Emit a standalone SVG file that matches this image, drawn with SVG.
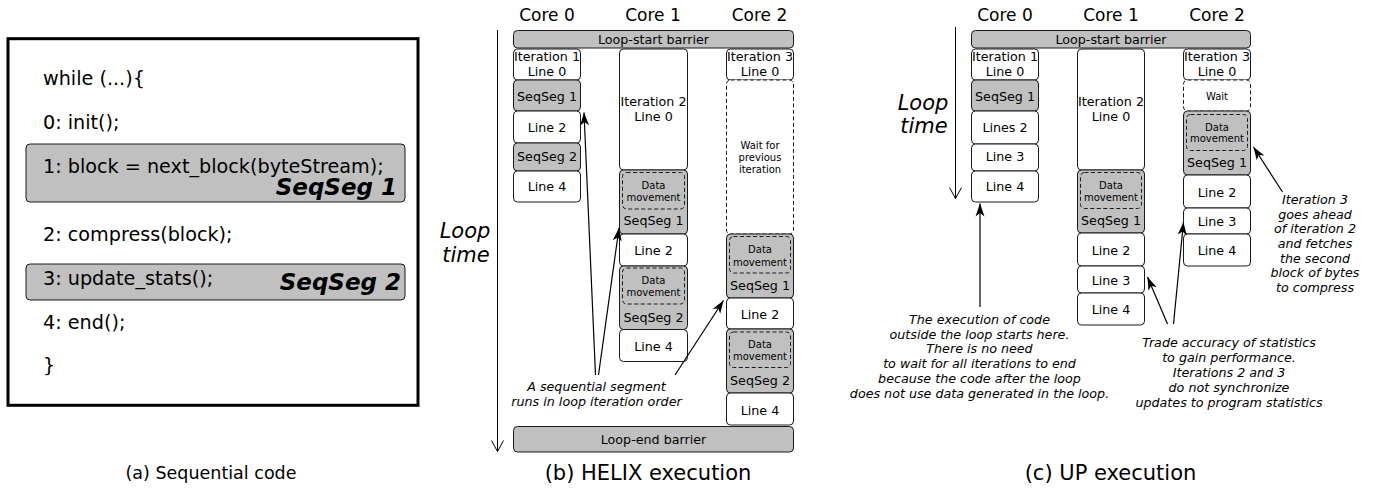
<svg xmlns="http://www.w3.org/2000/svg" width="1374" height="489" viewBox="0 0 1374 489">
  <style>
    text { font-family: "DejaVu Sans", "Liberation Sans", sans-serif; fill: #000; }
    .code { font-size: 19.2px; }
    .tag { font-size: 23px; font-weight: bold; font-style: italic; text-anchor: end; }
    .cap { font-size: 21px; text-anchor: middle; }
    .cap-a { font-size: 17.5px; text-anchor: middle; }
    .core { font-size: 17px; text-anchor: middle; }
    .axis { font-size: 21px; font-style: italic; text-anchor: middle; }
    .lbl { font-size: 12.7px; text-anchor: middle; }
    .sm { font-size: 10px; text-anchor: middle; }
    .note { font-size: 12.7px; font-style: italic; text-anchor: middle; }
    .box { fill: #fff; stroke: #1a1a1a; stroke-width: 1; }
    .seg { fill: #c0c0c0; stroke: #1a1a1a; stroke-width: 1; }
    .wait { fill: #fff; stroke: #1a1a1a; stroke-width: 1; stroke-dasharray: 4 2.5; }
    .mv { fill: none; stroke: #1a1a1a; stroke-width: 1; stroke-dasharray: 4 2.5; }
    .arr { fill: none; stroke: #000; stroke-width: 1.2; marker-end: url(#head); }
    .time { fill: none; stroke: #000; stroke-width: 1; }
  </style>
  <defs>
    <marker id="head" markerUnits="userSpaceOnUse" markerWidth="15" markerHeight="10" viewBox="0 -5 15 10" refX="13" refY="0" orient="auto">
      <path d="M0,-4.5 L13,0 L0,4.5 L3.5,0 z" fill="#000"/>
    </marker>
  </defs>

  <rect width="1374" height="489" fill="#fff"/>

  <!-- (a) Sequential code -->
  <g id="seq-code">
    <rect x="8" y="38.7" width="410" height="366.6" fill="#fff" stroke="#000" stroke-width="3"/>
    <rect class="seg" x="26" y="144" width="379" height="58" rx="4"/>
    <rect class="seg" x="26" y="264" width="379" height="36" rx="4"/>
    <text class="code" x="43" y="85">while (...){</text>
    <text class="code" x="43" y="129">0: init();</text>
    <text class="code" x="43" y="173">1: block = next_block(byteStream);</text>
    <text class="tag" x="397" y="195">SeqSeg 1</text>
    <text class="code" x="43" y="240.5">2: compress(block);</text>
    <text class="code" x="43" y="285">3: update_stats();</text>
    <text class="tag" x="401" y="290">SeqSeg 2</text>
    <text class="code" x="43" y="329">4: end();</text>
    <text class="code" x="43" y="372">}</text>
    <text class="cap-a" x="211" y="479">(a) Sequential code</text>
  </g>

  <!-- (b) HELIX execution -->
  <g id="helix">
    <text class="core" x="547" y="21">Core 0</text>
    <text class="core" x="653" y="21">Core 1</text>
    <text class="core" x="759.5" y="21">Core 2</text>
    <text class="axis" x="465" y="238">Loop</text>
    <text class="axis" x="466" y="261.5">time</text>
    <text class="cap" x="648" y="480">(b) HELIX execution</text>

    <g id="helix-start-barrier">
      <rect class="seg" x="513.5" y="30.5" width="280" height="17.5" rx="4"/>
      <text class="lbl" x="653.5" y="43.9">Loop-start barrier</text>
    </g>

    <g id="helix-core0">
      <rect class="box" x="513.5" y="49" width="67" height="31" rx="4"/>
      <text class="lbl" x="547" y="61.3">Iteration 1</text>
      <text class="lbl" x="547" y="76.3">Line 0</text>
      <rect class="seg" x="513.5" y="80" width="67" height="31" rx="4"/>
      <text class="lbl" x="547" y="101.3">SeqSeg 1</text>
      <rect class="box" x="513.5" y="111" width="67" height="32" rx="4"/>
      <text class="lbl" x="547" y="132.3">Line 2</text>
      <rect class="seg" x="513.5" y="143" width="67" height="28" rx="4"/>
      <text class="lbl" x="547" y="161.3">SeqSeg 2</text>
      <rect class="box" x="513.5" y="171" width="67" height="31" rx="4"/>
      <text class="lbl" x="547" y="191.3">Line 4</text>
    </g>

    <g id="helix-core1">
      <rect class="box" x="619.5" y="49" width="68" height="121" rx="4"/>
      <text class="lbl" x="653.5" y="106.3">Iteration 2</text>
      <text class="lbl" x="653.5" y="121.3">Line 0</text>
      <rect class="seg" x="619.5" y="170" width="68" height="64" rx="4"/>
      <rect class="mv" x="622.5" y="172.5" width="62" height="36.5" rx="4"/>
      <text class="sm" x="653.5" y="188.6">Data</text>
      <text class="sm" x="653.5" y="200.9">movement</text>
      <text class="lbl" x="653.5" y="224.6">SeqSeg 1</text>
      <rect class="box" x="619.5" y="234" width="68" height="32" rx="4"/>
      <text class="lbl" x="653.5" y="254.9">Line 2</text>
      <rect class="seg" x="619.5" y="266" width="68" height="63.5" rx="4"/>
      <rect class="mv" x="622.5" y="268" width="62" height="36" rx="4"/>
      <text class="sm" x="653.5" y="284.3">Data</text>
      <text class="sm" x="653.5" y="296.3">movement</text>
      <text class="lbl" x="653.5" y="321.9">SeqSeg 2</text>
      <rect class="box" x="619.5" y="329.5" width="68" height="32" rx="4"/>
      <text class="lbl" x="653.5" y="350.6">Line 4</text>
    </g>

    <g id="helix-core2">
      <rect class="box" x="726.5" y="49" width="67" height="31" rx="4"/>
      <text class="lbl" x="760" y="61.3">Iteration 3</text>
      <text class="lbl" x="760" y="76.3">Line 0</text>
      <rect class="wait" x="726.5" y="80" width="67" height="154" rx="4"/>
      <text class="sm" x="760" y="149.3">Wait for</text>
      <text class="sm" x="760" y="160.9">previous</text>
      <text class="sm" x="760" y="172.9">iteration</text>
      <rect class="seg" x="726.5" y="234" width="67" height="64" rx="4"/>
      <rect class="mv" x="729.5" y="236.5" width="61" height="36.5" rx="4"/>
      <text class="sm" x="760" y="252.9">Data</text>
      <text class="sm" x="760" y="265.6">movement</text>
      <text class="lbl" x="760" y="289.6">SeqSeg 1</text>
      <rect class="box" x="726.5" y="298" width="67" height="31" rx="4"/>
      <text class="lbl" x="760" y="318.6">Line 2</text>
      <rect class="seg" x="726.5" y="329" width="67" height="64" rx="4"/>
      <rect class="mv" x="729.5" y="332" width="61" height="35.5" rx="4"/>
      <text class="sm" x="760" y="347.6">Data</text>
      <text class="sm" x="760" y="359.6">movement</text>
      <text class="lbl" x="760" y="384.6">SeqSeg 2</text>
      <rect class="box" x="726.5" y="393" width="67" height="32" rx="4"/>
      <text class="lbl" x="760" y="414.6">Line 4</text>
    </g>

    <g id="helix-end-barrier">
      <rect class="seg" x="513.5" y="426.5" width="280" height="25.5" rx="4"/>
      <text class="lbl" x="653.5" y="443.9">Loop-end barrier</text>
    </g>

    <g id="helix-note">
      <text class="note" x="596.5" y="391">A sequential segment</text>
      <text class="note" x="596.5" y="406">runs in loop iteration order</text>
    </g>
  </g>

  <!-- (c) UP execution -->
  <g id="up">
    <text class="core" x="1005" y="21">Core 0</text>
    <text class="core" x="1111" y="21">Core 1</text>
    <text class="core" x="1217" y="21">Core 2</text>
    <text class="axis" x="923" y="110">Loop</text>
    <text class="axis" x="924" y="133">time</text>
    <text class="cap" x="1110.5" y="480">(c) UP execution</text>

    <g id="up-start-barrier">
      <rect class="seg" x="971.5" y="30.5" width="279" height="17.5" rx="4"/>
      <text class="lbl" x="1111" y="43.9">Loop-start barrier</text>
    </g>

    <g id="up-core0">
      <rect class="box" x="971.5" y="49" width="67" height="31" rx="4"/>
      <text class="lbl" x="1005" y="61.3">Iteration 1</text>
      <text class="lbl" x="1005" y="76.3">Line 0</text>
      <rect class="seg" x="971.5" y="80" width="67" height="31" rx="4"/>
      <text class="lbl" x="1005" y="101.3">SeqSeg 1</text>
      <rect class="box" x="971.5" y="111" width="67" height="33" rx="4"/>
      <text class="lbl" x="1005" y="132.3">Lines 2</text>
      <rect class="box" x="971.5" y="144" width="67" height="27" rx="4"/>
      <text class="lbl" x="1005" y="161.3">Line 3</text>
      <rect class="box" x="971.5" y="171" width="67" height="31" rx="4"/>
      <text class="lbl" x="1005" y="191.3">Line 4</text>
    </g>

    <g id="up-core1">
      <rect class="box" x="1077.5" y="49" width="67" height="121" rx="4"/>
      <text class="lbl" x="1111" y="106.3">Iteration 2</text>
      <text class="lbl" x="1111" y="121.3">Line 0</text>
      <rect class="seg" x="1077.5" y="170" width="67" height="63" rx="4"/>
      <rect class="mv" x="1080.5" y="172.5" width="61" height="36" rx="4"/>
      <text class="sm" x="1111" y="188.6">Data</text>
      <text class="sm" x="1111" y="200.9">movement</text>
      <text class="lbl" x="1111" y="225.3">SeqSeg 1</text>
      <rect class="box" x="1077.5" y="233" width="67" height="33" rx="4"/>
      <text class="lbl" x="1111" y="254.6">Line 2</text>
      <rect class="box" x="1077.5" y="266" width="67" height="27" rx="4"/>
      <text class="lbl" x="1111" y="284.6">Line 3</text>
      <rect class="box" x="1077.5" y="293" width="67" height="32" rx="4"/>
      <text class="lbl" x="1111" y="313.6">Line 4</text>
    </g>

    <g id="up-core2">
      <rect class="box" x="1183.5" y="49" width="67" height="31" rx="4"/>
      <text class="lbl" x="1217" y="61.3">Iteration 3</text>
      <text class="lbl" x="1217" y="76.3">Line 0</text>
      <rect class="wait" x="1183.5" y="80" width="67" height="31" rx="4"/>
      <text class="sm" x="1217" y="100.3">Wait</text>
      <rect class="seg" x="1183.5" y="111" width="67" height="64" rx="4"/>
      <rect class="mv" x="1186.5" y="114.5" width="61" height="36" rx="4"/>
      <text class="sm" x="1217" y="130.9">Data</text>
      <text class="sm" x="1217" y="141.9">movement</text>
      <text class="lbl" x="1217" y="166.9">SeqSeg 1</text>
      <rect class="box" x="1183.5" y="175" width="67" height="33" rx="4"/>
      <text class="lbl" x="1217" y="196.9">Line 2</text>
      <rect class="box" x="1183.5" y="208" width="67" height="26" rx="4"/>
      <text class="lbl" x="1217" y="225.6">Line 3</text>
      <rect class="box" x="1183.5" y="234" width="67" height="32" rx="4"/>
      <text class="lbl" x="1217" y="254.6">Line 4</text>
    </g>

    <g id="up-note-exit">
      <text class="note" x="979.5" y="323.6">The execution of code</text>
      <text class="note" x="979.5" y="338.6">outside the loop starts here.</text>
      <text class="note" x="979.5" y="353.3">There is no need</text>
      <text class="note" x="979.5" y="367.9">to wait for all iterations to end</text>
      <text class="note" x="979.5" y="382.9">because the code after the loop</text>
      <text class="note" x="979.5" y="397.9">does not use data generated in the loop.</text>
    </g>

    <g id="up-note-stats">
      <text class="note" x="1229" y="347.3">Trade accuracy of statistics</text>
      <text class="note" x="1229" y="362.3">to gain performance.</text>
      <text class="note" x="1229" y="377.3">Iterations 2 and 3</text>
      <text class="note" x="1229" y="391.9">do not synchronize</text>
      <text class="note" x="1229" y="406.9">updates to program statistics</text>
    </g>

    <g id="up-note-ahead">
      <text class="note" x="1315" y="203.9">Iteration 3</text>
      <text class="note" x="1315" y="218.6">goes ahead</text>
      <text class="note" x="1315" y="233.3">of iteration 2</text>
      <text class="note" x="1315" y="247.9">and fetches</text>
      <text class="note" x="1315" y="262.9">the second</text>
      <text class="note" x="1315" y="277.3">block of bytes</text>
      <text class="note" x="1315" y="291.9">to compress</text>
    </g>
  </g>

  <!-- connectors: time axes and annotation arrows -->
  <g id="connectors">
    <path class="time" d="M497.5,30 V451.5 M491.5,440.5 L497.5,451.5 L503.5,440.5"/>
    <path class="time" d="M955.5,27 V198.5 M949.5,187.5 L955.5,198.5 L961.5,187.5"/>
    <line class="arr" x1="595.5" y1="375" x2="584" y2="112.5"/>
    <line class="arr" x1="598.5" y1="375" x2="619" y2="228"/>
    <line class="arr" x1="675" y1="375" x2="723.5" y2="300.5"/>
    <line class="arr" x1="980" y1="307" x2="980" y2="203.5"/>
    <line class="arr" x1="1167.5" y1="324" x2="1147.5" y2="277"/>
    <line class="arr" x1="1173.5" y1="324" x2="1183.5" y2="222"/>
    <line class="arr" x1="1282.5" y1="192" x2="1253.5" y2="147"/>
  </g>
</svg>
